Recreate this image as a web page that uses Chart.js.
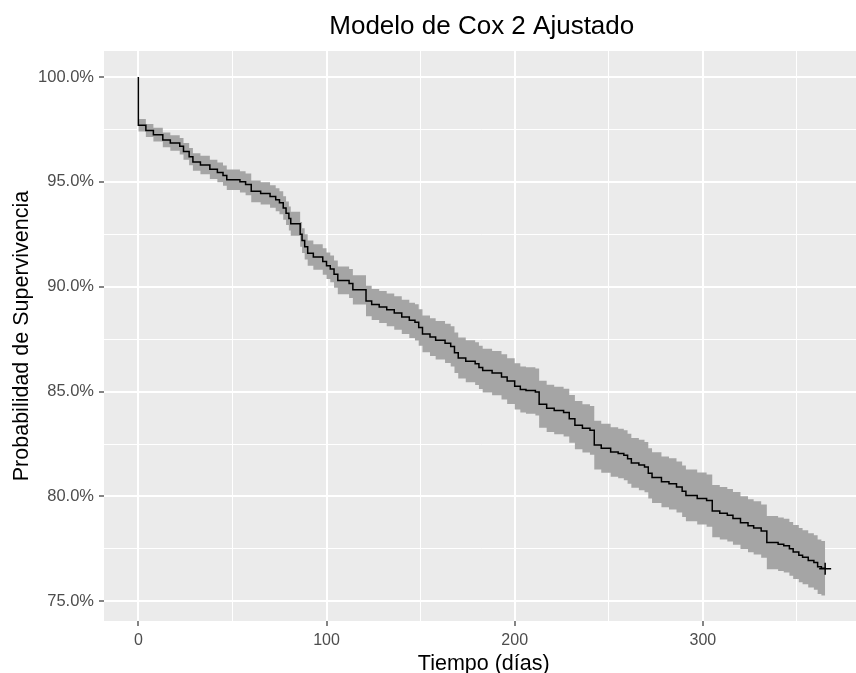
<!DOCTYPE html>
<html>
<head>
<meta charset="utf-8">
<title>Modelo de Cox 2 Ajustado</title>
<script src="https://cdn.jsdelivr.net/npm/chart.js@4.4.1/dist/chart.umd.min.js"></script>
<style>
  html, body { margin: 0; padding: 0; background: #ffffff; overflow: hidden; }
  canvas { display: block; }
</style>
</head>
<body>
<canvas id="coxChart" width="867" height="673"></canvas>
<script>
// Survival curve (step function, value holds from t on)
const tiempo = [0, 0, 4, 8, 13, 17, 22, 24, 27, 29, 33, 38, 42, 45, 47, 54, 57, 60, 65, 70,
  73, 75, 77, 78.5, 80, 81, 86, 87, 88.4, 90, 93, 98, 100, 102, 104, 106, 112, 114, 121, 124,
  128, 132, 136, 140, 144, 147, 149, 151, 155, 158, 163, 166, 168, 170, 174, 179, 181, 183, 188, 193,
  196, 200, 203, 206, 211, 213, 217, 221, 226, 229, 232, 236, 240, 242.3, 246, 251, 255, 258, 260, 262,
  266, 269, 271, 273, 278, 282, 286, 289, 291, 297, 302, 305, 309, 313, 316, 320, 324, 327, 331, 334,
  340, 343, 346, 348, 351, 353, 356, 359, 361, 363, 365];

const supervivencia = [100, 97.70, 97.45, 97.25, 97.00, 96.85, 96.70, 96.45, 96.20, 95.95, 95.80, 95.60, 95.45, 95.30, 95.10, 95.00, 94.88, 94.55, 94.45, 94.30,
  94.15, 94.00, 93.75, 93.50, 93.25, 93.00, 92.50, 92.20, 91.90, 91.60, 91.42, 91.20, 91.00, 90.85, 90.60, 90.30, 90.15, 89.85, 89.32, 89.15,
  89.03, 88.90, 88.75, 88.56, 88.40, 88.30, 88.05, 87.75, 87.60, 87.45, 87.30, 87.15, 86.85, 86.60, 86.45, 86.33, 86.15, 86.00, 85.88, 85.70,
  85.50, 85.25, 85.10, 85.05, 84.98, 84.40, 84.20, 84.10, 84.00, 83.70, 83.40, 83.25, 83.15, 82.45, 82.30, 82.12, 82.05, 81.96, 81.80, 81.60,
  81.50, 81.40, 81.10, 80.90, 80.70, 80.60, 80.45, 80.25, 80.05, 79.90, 79.80, 79.30, 79.20, 79.10, 78.95, 78.75, 78.60, 78.50, 78.35, 77.80,
  77.72, 77.65, 77.50, 77.35, 77.20, 77.10, 76.95, 76.85, 76.65, 76.58, 76.55];

const limiteSuperior = [98.00, 98.00, 97.76, 97.58, 97.35, 97.22, 97.09, 96.85, 96.61, 96.37, 96.24, 96.06, 95.92, 95.78, 95.59, 95.51, 95.40, 95.07, 94.98, 94.84,
  94.70, 94.55, 94.31, 94.06, 93.82, 93.57, 93.09, 92.79, 92.50, 92.20, 92.03, 91.83, 91.63, 91.49, 91.25, 90.96, 90.84, 90.55, 90.05, 89.89,
  89.79, 89.68, 89.55, 89.38, 89.24, 89.16, 88.92, 88.63, 88.50, 88.37, 88.24, 88.11, 87.82, 87.58, 87.45, 87.35, 87.18, 87.04, 86.94, 86.78,
  86.59, 86.35, 86.20, 86.16, 86.10, 85.52, 85.33, 85.23, 85.14, 84.84, 84.55, 84.40, 84.31, 83.61, 83.47, 83.30, 83.23, 83.15, 82.99, 82.79,
  82.70, 82.60, 82.30, 82.11, 81.91, 81.82, 81.67, 81.48, 81.28, 81.14, 81.04, 80.55, 80.45, 80.35, 80.21, 80.01, 79.86, 79.77, 79.62, 79.07,
  79.00, 78.93, 78.78, 78.64, 78.49, 78.39, 78.24, 78.15, 77.95, 77.88, 77.85];

const limiteInferior = [97.40, 97.40, 97.14, 96.92, 96.65, 96.48, 96.31, 96.05, 95.79, 95.53, 95.36, 95.14, 94.98, 94.82, 94.61, 94.49, 94.36, 94.03, 93.92, 93.76,
  93.60, 93.45, 93.19, 92.94, 92.68, 92.43, 91.91, 91.61, 91.30, 91.00, 90.81, 90.57, 90.37, 90.21, 89.95, 89.64, 89.46, 89.15, 88.59, 88.41,
  88.27, 88.12, 87.95, 87.74, 87.56, 87.44, 87.18, 86.87, 86.70, 86.53, 86.36, 86.19, 85.88, 85.62, 85.45, 85.31, 85.12, 84.96, 84.82, 84.62,
  84.41, 84.15, 84.00, 83.94, 83.86, 83.28, 83.07, 82.97, 82.86, 82.56, 82.25, 82.10, 81.99, 81.29, 81.13, 80.94, 80.87, 80.77, 80.61, 80.41,
  80.30, 80.20, 79.90, 79.69, 79.49, 79.38, 79.23, 79.02, 78.82, 78.66, 78.56, 78.05, 77.95, 77.85, 77.69, 77.49, 77.34, 77.23, 77.08, 76.53,
  76.44, 76.37, 76.22, 76.06, 75.91, 75.81, 75.66, 75.55, 75.35, 75.28, 75.25];

// censored mark at the end of follow-up
const censuraX = [365];
const censuraY = [76.55];

// axis ticks
const xMajor = [0, 100, 200, 300];
const xMinor = [50, 150, 250, 350];
const yMajor = [75, 80, 85, 90, 95, 100];
const yMinor = [77.5, 82.5, 87.5, 92.5, 97.5];

const titulo = 'Modelo de Cox 2 Ajustado';
const tituloX = 'Tiempo (días)';
const tituloY = 'Probabilidad de Supervivencia';

const FONT = '"Liberation Sans", Arial, sans-serif';

function toPoints(xs, ys) {
  return xs.map((x, i) => ({ x: x, y: ys[i] }));
}

// grey panel behind the grid
const panelBackground = {
  id: 'panelBackground',
  beforeDraw(chart) {
    const { ctx, chartArea } = chart;
    ctx.save();
    ctx.fillStyle = '#EBEBEB';
    ctx.fillRect(chartArea.left, chartArea.top, chartArea.right - chartArea.left, chartArea.bottom - chartArea.top);
    ctx.restore();
  }
};

// title and axis titles, placed like ggplot does
const ggTitles = {
  id: 'ggTitles',
  afterDraw(chart) {
    const { ctx, chartArea } = chart;
    const cx = (chartArea.left + chartArea.right) / 2;
    const cy = (chartArea.top + chartArea.bottom) / 2;
    ctx.save();
    ctx.fillStyle = '#000000';
    ctx.textAlign = 'center';
    ctx.textBaseline = 'alphabetic';

    ctx.font = '26px ' + FONT;
    ctx.fillText(titulo, cx, 34);

    ctx.font = '21.5px ' + FONT;
    ctx.fillText(tituloX, cx + 2, 670);

    ctx.translate(28, cy);
    ctx.rotate(-Math.PI / 2);
    ctx.fillText(tituloY, 0, 0);
    ctx.restore();
  }
};

function setTicks(major, minor) {
  return function(scale) {
    scale.ticks = major.concat(minor).sort((a, b) => a - b).map(v => ({ value: v }));
  };
}

function isMajor(list, v) {
  return list.some(m => Math.abs(m - v) < 1e-9);
}

const ctx = document.getElementById('coxChart').getContext('2d');
new Chart(ctx, {
  type: 'line',
  data: {
    datasets: [
      {
        label: 'IC superior',
        data: toPoints(tiempo, limiteSuperior),
        stepped: true,
        borderWidth: 0,
        borderColor: 'rgba(0,0,0,0)',
        backgroundColor: '#A5A5A5',
        pointRadius: 0,
        fill: '+1'
      },
      {
        label: 'IC inferior',
        data: toPoints(tiempo, limiteInferior),
        stepped: true,
        borderWidth: 0,
        borderColor: 'rgba(0,0,0,0)',
        pointRadius: 0,
        fill: false
      },
      {
        label: 'Supervivencia',
        data: toPoints(tiempo, supervivencia),
        stepped: true,
        borderColor: '#000000',
        borderWidth: 1.5,
        pointRadius: 0,
        fill: false
      },
      {
        label: 'Censura',
        data: toPoints(censuraX, censuraY),
        showLine: false,
        pointStyle: 'cross',
        pointRadius: 6,
        pointBorderWidth: 1.5,
        pointBorderColor: '#000000',
        fill: false
      }
    ]
  },
  options: {
    responsive: false,
    animation: false,
    devicePixelRatio: 1,
    layout: { padding: { top: 51, right: 1, left: 0, bottom: 0 } },
    plugins: {
      legend: { display: false },
      title: { display: false },
      tooltip: { enabled: false },
      filler: { drawTime: 'beforeDatasetsDraw' }
    },
    scales: {
      x: {
        type: 'linear',
        min: -18.25,
        max: 383.25,
        afterBuildTicks: setTicks(xMajor, xMinor),
        afterFit(scale) { scale.height = 52; },
        border: { display: false },
        grid: {
          color: '#FFFFFF',
          lineWidth: c => isMajor(xMajor, c.tick.value) ? 2 : 1,
          tickColor: c => isMajor(xMajor, c.tick.value) ? '#333333' : 'rgba(0,0,0,0)',
          tickLength: 5,
          tickWidth: 1.2
        },
        ticks: {
          autoSkip: false,
          maxRotation: 0,
          padding: 5,
          color: '#4D4D4D',
          font: { family: FONT, size: 16 },
          callback: v => isMajor(xMajor, v) ? String(v) : ''
        }
      },
      y: {
        type: 'linear',
        min: 74.06,
        max: 101.24,
        afterBuildTicks: setTicks(yMajor, yMinor),
        afterFit(scale) { scale.width = 104; },
        border: { display: false },
        grid: {
          color: '#FFFFFF',
          lineWidth: c => isMajor(yMajor, c.tick.value) ? 2 : 1,
          tickColor: c => isMajor(yMajor, c.tick.value) ? '#333333' : 'rgba(0,0,0,0)',
          tickLength: 5,
          tickWidth: 1.2
        },
        ticks: {
          autoSkip: false,
          padding: 5,
          color: '#4D4D4D',
          font: { family: FONT, size: 16.5 },
          callback: v => isMajor(yMajor, v) ? v.toFixed(1) + '%' : ''
        }
      }
    }
  },
  plugins: [panelBackground, ggTitles]
});
</script>
</body>
</html>
